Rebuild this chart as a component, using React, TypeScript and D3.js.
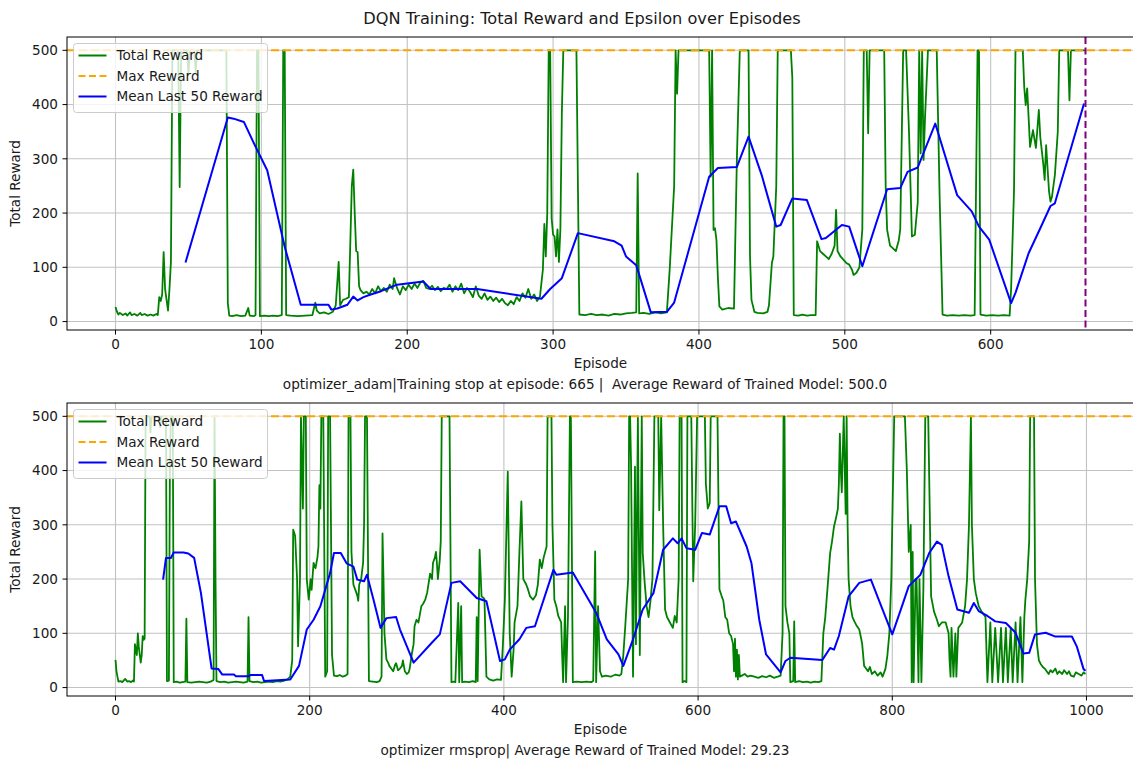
import React from "react";
import * as d3 from "d3";

// ---------- DATA ----------
const adamReward: [number, number][] = [
  [0,27],[1,18],[2,13],[3,16],[5,12],[7,15],[8,11],[10,17],[11,12],[13,14],[15,11],[17,16],[18,12],[20,14],[22,11],[24,13],[26,11],[28,14],[29,12],
  [30,45],[31,38],[32,50],[33,128],[34,60],[35,40],[36,20],[37,60],[38,110],[39,500],[43,500],[44,248],[45,500],[49,500],[50,455],[51,500],[54,500],[55,460],[56,500],[76,500],
  [77,34],[78,11],[80,10],[83,12],[86,10],[89,11],[91,25],[92,11],[95,10],[96,12],[97,500],[98,500],[99,10],[102,11],[105,10],[108,11],[111,10],[114,12],[115,500],[116,500],[117,12],
  [120,11],[125,10],[130,11],[135,12],[137,35],[138,20],[140,15],[143,17],[146,14],[149,18],[151,30],[153,110],[154,30],[156,40],[158,42],[160,45],[162,250],[163,280],[164,200],[165,130],[166,128],[167,65],
  [168,58],[170,52],[172,55],[174,50],[176,60],[178,52],[180,65],[182,56],[184,62],[186,55],[188,68],[190,60],[191,80],[193,62],[195,50],[197,65],[199,58],[201,68],[203,60],[205,70],[207,62],[209,72],
  [211,75],[213,62],[215,60],[217,66],[219,58],[221,64],[223,56],[225,62],[227,60],[229,68],[231,55],[233,65],[235,58],[237,70],[239,52],[241,62],[243,55],[245,45],[247,65],[249,48],[251,42],[253,52],
  [255,40],[257,46],[259,38],[261,44],[263,36],[265,42],[267,34],[269,30],[271,38],[273,32],[275,45],[277,38],[279,52],[281,44],[283,60],[285,42],[287,50],[289,38],[291,46],
  [293,96],[294,180],[295,120],[296,200],[297,500],[298,500],[299,190],[300,160],[301,157],[302,120],[303,170],[304,110],[305,170],[306,384],[307,500],[316,500],[318,13],
  [322,12],[326,14],[330,12],[334,13],[338,11],[342,14],[346,13],[350,15],[354,16],[357,17],[358,273],[359,15],[362,16],[366,14],[370,17],[374,15],[378,17],
  [380,99],[381,150],[383,250],[384,500],[385,420],[386,500],[406,500],[407,500],[408,267],[409,500],[410,169],[411,172],[412,150],[413,80],[414,28],[416,22],[420,25],[424,24],[426,300],[428,500],[434,500],
  [435,120],[436,40],[438,18],[440,16],[444,15],[447,18],[448,30],[450,108],[451,120],[453,250],[454,500],[463,500],[464,450],[465,12],[468,11],[471,13],[474,11],[477,12],[480,12],
  [481,148],[483,130],[485,125],[487,120],[489,115],[491,125],[493,140],[494,206],[495,130],[497,120],[499,114],[501,108],[503,105],[505,95],[506,86],[508,90],[510,100],[512,170],[513,500],[515,500],[516,347],[517,500],[527,500],
  [528,250],[529,169],[531,140],[533,135],[535,130],[537,150],[538,170],[540,500],[542,500],[544,350],[546,157],[548,160],[550,220],[551,500],[552,310],[553,500],[554,298],[555,377],[557,500],[563,500],[565,230],[567,13],
  [570,11],[574,12],[578,11],[582,12],[586,11],[589,12],[591,500],[592,500],[593,13],[597,11],[601,12],[605,11],[609,12],[613,11],[614,60],[616,243],[617,500],[622,500],
  [623,432],[624,399],[625,430],[627,322],[629,353],[631,320],[633,390],[634,340],[636,292],[637,261],[638,325],[640,240],[641,221],[642,230],[644,270],[646,350],[647,500],[653,500],[654,408],[655,500],[665,500],
];

const adamMean: [number, number][] = [
  [48,109],[77,376],[81,374],[88,368],[95,328],[104,279],[116,138],[127,31],[146,31],[148,22],[152,24],[159,31],[163,46],[166,39],[170,45],[175,50],[182,56],
  [193,68],[211,74],[216,60],[248,60],[292,42],[298,60],[306,80],[317,163],[342,148],[347,140],[350,120],[357,104],[367,17],[378,18],[383,35],
  [407,267],[413,283],[426,285],[434,341],[443,270],[453,175],[456,178],[464,227],[474,224],[484,152],[487,154],[498,178],[503,175],[512,102],
  [529,244],[538,246],[543,276],[550,284],[562,365],[577,233],[587,203],[592,175],[599,151],[614,34],[617,53],[626,126],[634,172],[641,213],[644,218],[664,402],
];

const rmsReward: [number, number][] = [
  [0,51],[1,30],[2,20],[3,11],[5,12],[7,10],[9,14],[10,16],[12,11],[14,12],[16,10],[18,13],[19,11],[20,80],[21,70],[22,60],[23,100],[24,75],[25,60],[26,46],[27,60],[28,95],[29,88],[30,90],
  [31,500],[35,500],[36,470],[37,500],[45,500],[46,480],[47,500],[52,500],[53,12],[55,13],[56,400],[57,500],[59,500],[60,10],[63,11],[66,9],[69,10],[72,11],[73,127],[74,10],[78,9],[82,10],[86,11],[90,10],[94,9],[98,11],
  [101,14],[102,500],[103,200],[104,12],[108,10],[112,11],[116,9],[120,10],[124,11],[128,10],[132,9],[136,11],[137,130],[138,12],[142,10],[146,11],[150,9],[154,10],[158,11],[162,10],[166,12],[170,11],[174,13],[177,15],[180,20],
  [182,50],[183,291],[185,280],[187,200],[188,76],[190,200],[191,500],[193,330],[194,500],[196,500],[197,200],[199,162],[201,200],[202,180],[204,230],[206,220],[208,240],[209,260],[210,373],[211,330],[212,500],[214,500],
  [216,20],[218,30],[219,500],[221,500],[223,60],[225,22],[228,21],[231,23],[234,20],[237,22],[239,25],[240,500],[242,500],[243,250],[245,190],[247,180],[249,170],[250,160],[251,190],[253,200],[255,230],[256,300],[257,500],[259,500],
  [261,12],[265,11],[269,10],[272,12],[274,20],[275,284],[276,200],[277,100],[279,52],[281,45],[282,40],[284,35],[286,30],[288,42],[289,45],[291,32],[293,35],[295,40],[296,50],[298,30],[300,25],[302,28],[303,35],[305,60],[307,80],
  [308,113],[310,125],[312,120],[314,140],[315,150],[317,155],[319,162],[321,175],[324,210],[326,200],[327,230],[329,240],[330,250],[331,230],[332,200],[334,236],[335,270],[336,500],[344,500],[346,10],[348,11],[350,10],
  [353,156],[354,10],[356,150],[357,10],[360,11],[364,10],[368,12],[371,10],[372,130],[373,12],[375,254],[377,168],[379,165],[380,163],[382,20],[385,15],[389,13],[393,15],[397,14],[399,80],[401,162],[404,398],[406,100],[408,20],
  [410,70],[411,120],[414,150],[416,250],[418,343],[420,200],[423,190],[425,180],[427,168],[430,162],[433,170],[435,190],[437,236],[439,220],[441,240],[444,260],[445,500],[449,500],[450,300],[452,162],[454,150],[456,132],[459,120],
  [460,60],[461,10],[463,150],[464,10],[466,130],[468,500],[469,500],[471,10],[475,11],[480,10],[485,11],[490,10],[492,12],[494,251],[495,10],[497,150],[499,30],[501,20],[505,22],[510,20],[515,24],[519,22],[521,25],
  [523,60],[525,113],[528,200],[529,500],[530,500],[531,407],[533,20],[535,407],[536,80],[538,500],[540,60],[542,500],[543,248],[545,193],[547,150],[549,130],[551,160],[553,200],[555,500],[559,500],[560,327],[562,500],[564,300],
  [566,144],[568,130],[571,120],[574,110],[576,132],[578,120],[580,200],[581,500],[583,500],[584,10],[586,12],[588,10],[589,500],[593,500],[595,196],[597,300],[599,500],[607,500],[608,376],[610,330],[612,340],[613,500],[620,500],
  [622,181],[624,170],[626,160],[628,130],[630,125],[632,100],[634,95],[636,80],[637,30],[638,90],[639,20],[640,70],[641,15],[642,60],[643,20],[645,22],[648,25],[651,20],
  [654,22],[658,20],[662,18],[666,21],[670,19],[674,22],[678,18],[682,20],[685,22],[687,100],[688,500],[689,500],[690,150],[692,120],[694,100],[695,10],[698,12],[699,122],[700,10],[704,12],[708,10],[712,11],[716,9],[720,11],[724,10],[727,12],
  [729,100],[731,130],[734,200],[736,248],[738,270],[740,297],[742,312],[744,330],[745,376],[746,468],[747,400],[748,360],[750,500],[752,320],[753,500],[754,300],[755,200],[757,150],[759,130],[761,122],[763,115],[766,107],[768,90],
  [769,80],[771,40],[773,35],[775,30],[777,38],[779,25],[782,30],[785,22],[788,28],[790,20],[793,35],[795,60],[797,100],[799,200],[800,300],[802,500],[813,500],[815,400],[817,250],[819,300],[820,10],[821,250],[822,10],[824,200],[825,200],
  [827,10],[828,200],[830,10],[832,180],[834,500],[837,500],[840,168],[843,140],[846,125],[848,113],[851,120],[855,120],[858,100],[859,50],[860,20],[861,110],[863,20],[865,100],[866,20],[868,110],[870,115],[872,120],[875,150],
  [877,200],[879,300],[881,500],[882,300],[884,200],[886,174],[889,150],[892,140],[896,130],[898,10],[901,120],[903,10],[906,110],[909,10],[912,110],[914,10],[917,110],[919,10],[922,110],[924,10],[927,120],[929,10],[932,130],[934,10],
  [936,130],[937,160],[939,200],[941,270],[942,500],[946,500],[947,200],[949,80],[951,50],[953,43],[955,38],[957,35],[959,30],[961,25],[963,32],[965,28],[968,35],[970,25],[972,30],[975,25],[977,32],[980,25],[982,30],[984,22],
  [987,20],[989,28],[992,25],[995,22],[997,28],[999,25],
];

const rmsMean: [number, number][] = [
  [49,199],[52,239],[57,239],[60,249],[70,249],[75,247],[81,239],[88,174],[99,35],[106,34],[110,24],[122,24],[124,21],[137,21],[139,23],[151,23],[153,12],[180,15],[189,40],[197,107],[204,125],[211,150],
  [221,211],[225,248],[232,248],[238,229],[245,223],[249,199],[256,196],[259,208],[266,160],[273,110],[279,128],[289,130],[293,107],[307,46],[326,83],[334,98],[346,193],[355,196],[372,165],[382,159],
  [396,49],[401,52],[406,70],[416,89],[423,110],[432,113],[451,217],[454,208],[471,212],[495,138],[506,89],[518,61],[523,40],[533,89],[543,144],[554,174],[564,254],[574,275],[579,266],[583,275],[588,257],
  [597,254],[604,285],[612,282],[622,334],[629,334],[634,303],[639,306],[650,260],[655,229],[663,125],[670,61],[685,28],[690,49],[695,55],[728,51],[736,73],[740,70],[745,95],[755,168],[766,193],[778,199],
  [786,162],[800,98],[810,150],[817,187],[829,208],[838,248],[846,269],[851,263],[858,205],[867,144],[879,138],[884,156],[889,141],[898,132],[906,122],[917,119],[927,101],[935,63],[941,64],[947,98],[958,101],
  [968,94],[985,94],[990,76],[997,34],[999,31],
];

const maxReward = 500;
const adamStopEpisode = 665;
const yTicks = [0, 100, 200, 300, 400, 500];
const adamXTicks = [0, 100, 200, 300, 400, 500, 600];
const rmsXTicks = [0, 200, 400, 600, 800, 1000];
const legendLabels = ["Total Reward", "Max Reward", "Mean Last 50 Reward"];
const titleText = "DQN Training: Total Reward and Epsilon over Episodes";
const adamCaption = "optimizer_adam|Training stop at episode: 665 |  Average Reward of Trained Model: 500.0";
const rmsCaption = "optimizer rmsprop| Average Reward of Trained Model: 29.23";

// ---------- LAYOUT ----------
const W = 1133;
const H = 763;
const FONT = "DejaVu Sans, sans-serif";
const FS = 13.6;
const TXT = "#1a1a1a";
const GREEN = "#008000";
const ORANGE = "#ffa500";
const BLUE = "#0000ff";
const PURPLE = "#800080";

type PanelProps = {
  id: string;
  top: number;
  bottom: number;
  xDomain: [number, number];
  xTicks: number[];
  reward: [number, number][];
  mean: [number, number][];
  stop?: number;
  caption: string;
};

const LEFT = 67;
const RIGHT = 1134;

function Panel({ id, top, bottom, xDomain, xTicks, reward, mean, stop, caption }: PanelProps) {
  const x = d3.scaleLinear().domain(xDomain).range([LEFT, RIGHT]);
  const y = d3.scaleLinear().domain([-15.55, 524.55]).range([bottom, top]);
  const line = d3
    .line<[number, number]>()
    .x((d) => x(d[0]))
    .y((d) => y(d[1]));
  const lx = LEFT + 6.5;
  const ly = top + 6.5;
  const lw = 194;
  const lh = 69;
  return (
    <g>
      <defs>
        <clipPath id={`clip-${id}`}>
          <rect x={LEFT} y={top} width={RIGHT - LEFT} height={bottom - top} />
        </clipPath>
      </defs>
      <rect x={LEFT} y={top} width={RIGHT - LEFT} height={bottom - top} fill="#fff" />
      {xTicks.map((t) => (
        <line key={`gx${t}`} x1={x(t)} x2={x(t)} y1={top} y2={bottom} stroke="#c2c2c2" strokeWidth={1.1} />
      ))}
      {yTicks.map((t) => (
        <line key={`gy${t}`} x1={LEFT} x2={RIGHT} y1={y(t)} y2={y(t)} stroke="#c2c2c2" strokeWidth={1.1} />
      ))}
      <g clipPath={`url(#clip-${id})`}>
        <path d={line(reward) || ""} fill="none" stroke={GREEN} strokeWidth={1.8} strokeLinejoin="round" />
        <line x1={LEFT} x2={RIGHT} y1={y(maxReward)} y2={y(maxReward)} stroke={ORANGE} strokeWidth={2} strokeDasharray="8,4" />
        <path d={line(mean) || ""} fill="none" stroke={BLUE} strokeWidth={2} strokeLinejoin="round" />
        {stop !== undefined && (
          <line x1={x(stop)} x2={x(stop)} y1={top} y2={bottom} stroke={PURPLE} strokeWidth={2} strokeDasharray="7,3.5" />
        )}
      </g>
      <rect x={LEFT} y={top} width={RIGHT - LEFT} height={bottom - top} fill="none" stroke="#000" strokeWidth={1} />
      {yTicks.map((t) => (
        <g key={`ty${t}`}>
          <line x1={LEFT - 4.5} x2={LEFT} y1={y(t)} y2={y(t)} stroke="#000" strokeWidth={1} />
          <text x={LEFT - 9} y={y(t)} dy="0.36em" textAnchor="end" fontSize={FS} fontFamily={FONT} fill={TXT}>
            {t}
          </text>
        </g>
      ))}
      {xTicks.map((t) => (
        <g key={`tx${t}`}>
          <line x1={x(t)} x2={x(t)} y1={bottom} y2={bottom + 4.5} stroke="#000" strokeWidth={1} />
          <text x={x(t)} y={bottom + 19} textAnchor="middle" fontSize={FS} fontFamily={FONT} fill={TXT}>
            {t}
          </text>
        </g>
      ))}
      <text x={(LEFT + RIGHT) / 2} y={bottom + 38} textAnchor="middle" fontSize={FS} fontFamily={FONT} fill={TXT}>
        Episode
      </text>
      <text
        x={585}
        y={bottom + 58.5}
        textAnchor="middle"
        fontSize={FS}
        fontFamily={FONT}
        fill={TXT}
        style={{ whiteSpace: "pre" }}
      >
        {caption}
      </text>
      <text
        transform={`translate(20,${(top + bottom) / 2}) rotate(-90)`}
        textAnchor="middle"
        fontSize={FS}
        fontFamily={FONT}
        fill={TXT}
      >
        Total Reward
      </text>
      <rect x={lx} y={ly} width={lw} height={lh} rx={3} fill="#fff" fillOpacity={0.8} stroke="#cccccc" strokeWidth={1} />
      {legendLabels.map((lab, i) => {
        const cy = ly + 12 + i * 20.5;
        const color = i === 0 ? GREEN : i === 1 ? ORANGE : BLUE;
        return (
          <g key={lab}>
            <line
              x1={lx + 5}
              x2={lx + 33}
              y1={cy}
              y2={cy}
              stroke={color}
              strokeWidth={2}
              strokeDasharray={i === 1 ? "7,3.5" : undefined}
            />
            <text x={lx + 43} y={cy} dy="0.36em" fontSize={FS} fontFamily={FONT} fill={TXT}>
              {lab}
            </text>
          </g>
        );
      })}
    </g>
  );
}

export default function App() {
  return (
    <svg
      width={W}
      height={H}
      viewBox={`0 0 ${W} ${H}`}
      style={{ position: "absolute", left: 0, top: 0, background: "#fff" }}
    >
      <rect x={0} y={0} width={W} height={H} fill="#fff" />
      <text x={582} y={24} textAnchor="middle" fontSize={16.2} fontFamily={FONT} fill={TXT}>
        {titleText}
      </text>
      <Panel
        id="adam"
        top={37}
        bottom={330}
        xDomain={[-33.25, 698.25]}
        xTicks={adamXTicks}
        reward={adamReward}
        mean={adamMean}
        stop={adamStopEpisode}
        caption={adamCaption}
      />
      <Panel
        id="rms"
        top={403}
        bottom={696}
        xDomain={[-49.95, 1048.95]}
        xTicks={rmsXTicks}
        reward={rmsReward}
        mean={rmsMean}
        caption={rmsCaption}
      />
    </svg>
  );
}
